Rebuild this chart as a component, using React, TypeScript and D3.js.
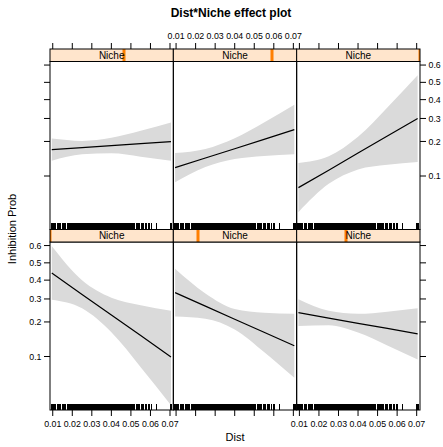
import React from 'react';
import * as d3 from 'd3';

// ---- data ----
const distTicks = [0.01, 0.02, 0.03, 0.04, 0.05, 0.06, 0.07];
const distTickLabels = ['0.01', '0.02', '0.03', '0.04', '0.05', '0.06', '0.07'];
const probTicks = [0.1, 0.2, 0.3, 0.4, 0.5, 0.6];
const probTickLabels = ['0.1', '0.2', '0.3', '0.4', '0.5', '0.6'];

// Niche conditioning value (relative position within strip), panel order: BL, BM, BR, TL, TM, TR
const nicheLevels = [0, 0.2, 0.4, 0.6, 0.8, 1.0];

// x positions where fit / band are read
const distPoints = [0.0095, 0.025, 0.04, 0.055, 0.0705];

const fitN0 = [0.441, 0.323, 0.227, 0.154, 0.099];
const lowN0 = [0.296, 0.256, 0.164, 0.0797, 0.0342];
const upN0 = [0.597, 0.399, 0.306, 0.27, 0.245];

const fitN1 = [0.332, 0.266, 0.21, 0.164, 0.125];
const lowN1 = [0.221, 0.212, 0.173, 0.11, 0.0632];
const upN1 = [0.465, 0.328, 0.253, 0.237, 0.232];

const fitN2 = [0.237, 0.215, 0.195, 0.177, 0.159];
const lowN2 = [0.185, 0.188, 0.163, 0.126, 0.094];
const upN2 = [0.299, 0.245, 0.232, 0.241, 0.256];

const fitN3 = [0.171, 0.178, 0.185, 0.192, 0.199];
const lowN3 = [0.137, 0.156, 0.159, 0.149, 0.137];
const upN3 = [0.211, 0.202, 0.214, 0.243, 0.281];

const fitN4 = [0.119, 0.145, 0.174, 0.208, 0.248];
const lowN4 = [0.0876, 0.1207, 0.142, 0.151, 0.156];
const upN4 = [0.16, 0.173, 0.212, 0.28, 0.371];

const fitN5 = [0.078, 0.113, 0.16, 0.221, 0.3];
const lowN5 = [0.0454, 0.0846, 0.1148, 0.1267, 0.134];
const upN5 = [0.131, 0.15, 0.218, 0.357, 0.542];

// observed Dist values (rug)
const distRug = [
  0.0089, 0.0092, 0.0095, 0.0098, 0.0101, 0.0104, 0.0107, 0.0111,
  0.0121, 0.0124, 0.0127, 0.0131, 0.0135,
  0.0146, 0.0149, 0.0152, 0.0156, 0.016, 0.0164,
  0.0174, 0.0177, 0.0181, 0.0184, 0.0188, 0.0191, 0.0195, 0.0198, 0.0202, 0.0206,
  0.0209, 0.0213, 0.0217, 0.022, 0.0224, 0.0228, 0.0231, 0.0235, 0.0239, 0.0243,
  0.0246, 0.025, 0.0254, 0.0258, 0.0262, 0.0265, 0.0269, 0.0273, 0.0277, 0.0281,
  0.0285, 0.0289, 0.0293, 0.0297, 0.0301, 0.0305, 0.0309, 0.0313, 0.0317, 0.0321,
  0.0326, 0.033, 0.0334, 0.0338, 0.0342, 0.0347, 0.0351, 0.0355, 0.0359, 0.0364,
  0.0368, 0.0372, 0.0377, 0.0381, 0.0386, 0.039, 0.0395, 0.0399, 0.0404, 0.0409,
  0.0413, 0.0418, 0.0423, 0.0428, 0.0433, 0.0438, 0.0443, 0.0448, 0.0453, 0.0458,
  0.0463, 0.0468, 0.0473, 0.0478, 0.0484, 0.0489, 0.0495, 0.05, 0.0506, 0.0512,
  0.0518, 0.0524, 0.053, 0.0537, 0.0543, 0.055, 0.0557, 0.0564, 0.0571, 0.0578,
  0.0586, 0.0594, 0.0601,
  0.0626, 0.0698, 0.0703, 0.0707,
];

const panels = [
  { niche: nicheLevels[0], fit: fitN0, low: lowN0, up: upN0 },
  { niche: nicheLevels[1], fit: fitN1, low: lowN1, up: upN1 },
  { niche: nicheLevels[2], fit: fitN2, low: lowN2, up: upN2 },
  { niche: nicheLevels[3], fit: fitN3, low: lowN3, up: upN3 },
  { niche: nicheLevels[4], fit: fitN4, low: lowN4, up: upN4 },
  { niche: nicheLevels[5], fit: fitN5, low: lowN5, up: upN5 },
];

// ---- layout ----
const W = 443;
const H = 447;
const FONT = "'Liberation Sans', Arial, Helvetica, sans-serif";
const panelX0 = 50;
const panelW = 370 / 3;
const stripH = 12.5;
const panelH = 168;
const rowStripTop = [49, 49 + stripH + panelH]; // row 0 = top, row 1 = bottom
const xDomain = [0.0086, 0.0717];
const yDomain = [-3.452, 0.489];
const logit = (p: number) => Math.log(p / (1 - p));

export default function App() {
  const cells = panels.map((p, i) => {
    const col = i % 3;
    const row = i < 3 ? 1 : 0;
    const x0 = panelX0 + col * panelW;
    const sTop = rowStripTop[row];
    const pTop = sTop + stripH;
    const pBot = pTop + panelH;
    const x = d3.scaleLinear().domain(xDomain).range([x0, x0 + panelW]);
    const yL = d3.scaleLinear().domain(yDomain).range([pBot, pTop]);
    const y = (v: number) => yL(logit(v));
    const pts = distPoints.map((d, k) => ({ d, f: p.fit[k], lo: p.low[k], hi: p.up[k] }));
    const area = d3
      .area<any>()
      .x((d) => x(d.d))
      .y0((d) => y(d.lo))
      .y1((d) => y(d.hi))
      .curve(d3.curveMonotoneX);
    const line = d3
      .line<any>()
      .x((d) => x(d.d))
      .y((d) => y(d.f));
    return { i, col, row, x0, sTop, pTop, pBot, x, y, pts, area, line, niche: p.niche };
  });

  const tickLen = 6;

  return (
    <svg
      width={W}
      height={H}
      style={{ position: 'absolute', left: 0, top: 0, background: '#fff' }}
      fontFamily={FONT}
    >
      <defs>
        {cells.map((c) => (
          <clipPath id={`pclip${c.i}`} key={`pc${c.i}`}>
            <rect x={c.x0} y={c.pTop} width={panelW} height={panelH} />
          </clipPath>
        ))}
        {cells.map((c) => (
          <clipPath id={`sclip${c.i}`} key={`sc${c.i}`}>
            <rect x={c.x0} y={c.sTop} width={panelW} height={stripH} />
          </clipPath>
        ))}
      </defs>
      <rect x={0} y={0} width={W} height={H} fill="#fff" />

      <text x={231} y={16.5} textAnchor="middle" fontSize={12} fontWeight="bold">
        Dist*Niche effect plot
      </text>

      {cells.map((c) => (
        <g key={c.i}>
          {/* band + fit */}
          <g clipPath={`url(#pclip${c.i})`}>
            <path d={c.area(c.pts) || ''} fill="#dadada" stroke="none" />
            <path d={c.line(c.pts) || ''} fill="none" stroke="#000" strokeWidth={1.2} />
            {distRug.map((r, k) => {
              const xx = Math.round(c.x(r)) + 0.5;
              return (
                <line
                  key={k}
                  x1={xx}
                  x2={xx}
                  y1={c.pBot - 6.5}
                  y2={c.pBot}
                  stroke="#000"
                  strokeWidth={1}
                  shapeRendering="crispEdges"
                />
              );
            })}
          </g>
          <rect x={c.x0} y={c.pTop} width={panelW} height={panelH} fill="none" stroke="#000" strokeWidth={1} />

          {/* strip */}
          <rect x={c.x0} y={c.sTop} width={panelW} height={stripH} fill="#ffe5cc" />
          <g clipPath={`url(#sclip${c.i})`}>
            <rect x={c.x0 + c.niche * panelW - 1.5} y={c.sTop} width={3} height={stripH} fill="#ff7f00" />
          </g>
          <text
            x={c.x0 + panelW / 2}
            y={c.sTop + stripH / 2 + 3.6}
            textAnchor="middle"
            fontSize={10}
            fill="#000"
          >
            Niche
          </text>
          <rect x={c.x0} y={c.sTop} width={panelW} height={stripH} fill="none" stroke="#000" strokeWidth={1} />

          {/* x ticks: top of top row, bottom of bottom row */}
          {c.row === 0 &&
            distTicks.map((t, k) => (
              <g key={`xt${k}`}>
                <line x1={c.x(t)} x2={c.x(t)} y1={c.sTop} y2={c.sTop - tickLen} stroke="#000" strokeWidth={1} />
                {c.col === 1 && (
                  <text x={c.x(t)} y={38.5} textAnchor="middle" fontSize={8.8}>
                    {distTickLabels[k]}
                  </text>
                )}
              </g>
            ))}
          {c.row === 1 &&
            distTicks.map((t, k) => (
              <g key={`xb${k}`}>
                <line x1={c.x(t)} x2={c.x(t)} y1={c.pBot} y2={c.pBot + tickLen} stroke="#000" strokeWidth={1} />
                {c.col !== 1 && (
                  <text x={c.x(t)} y={427} textAnchor="middle" fontSize={8.8}>
                    {distTickLabels[k]}
                  </text>
                )}
              </g>
            ))}

          {/* y ticks */}
          {c.col === 0 &&
            probTicks.map((t, k) => (
              <g key={`yl${k}`}>
                <line x1={c.x0} x2={c.x0 - tickLen} y1={c.y(t)} y2={c.y(t)} stroke="#000" strokeWidth={1} />
                {c.row === 1 && (
                  <text x={c.x0 - tickLen - 2.5} y={c.y(t) + 3.1} textAnchor="end" fontSize={8.8}>
                    {probTickLabels[k]}
                  </text>
                )}
              </g>
            ))}
          {c.col === 2 &&
            probTicks.map((t, k) => (
              <g key={`yr${k}`}>
                <line
                  x1={c.x0 + panelW}
                  x2={c.x0 + panelW + tickLen}
                  y1={c.y(t)}
                  y2={c.y(t)}
                  stroke="#000"
                  strokeWidth={1}
                />
                {c.row === 0 && (
                  <text x={c.x0 + panelW + tickLen + 2.5} y={c.y(t) + 3.1} textAnchor="start" fontSize={8.8}>
                    {probTickLabels[k]}
                  </text>
                )}
              </g>
            ))}
        </g>
      ))}

      <text x={235} y={441} textAnchor="middle" fontSize={11}>
        Dist
      </text>
      <text
        transform={`translate(16,229) rotate(-90)`}
        textAnchor="middle"
        fontSize={11}
      >
        Inhibition Prob
      </text>
    </svg>
  );
}
